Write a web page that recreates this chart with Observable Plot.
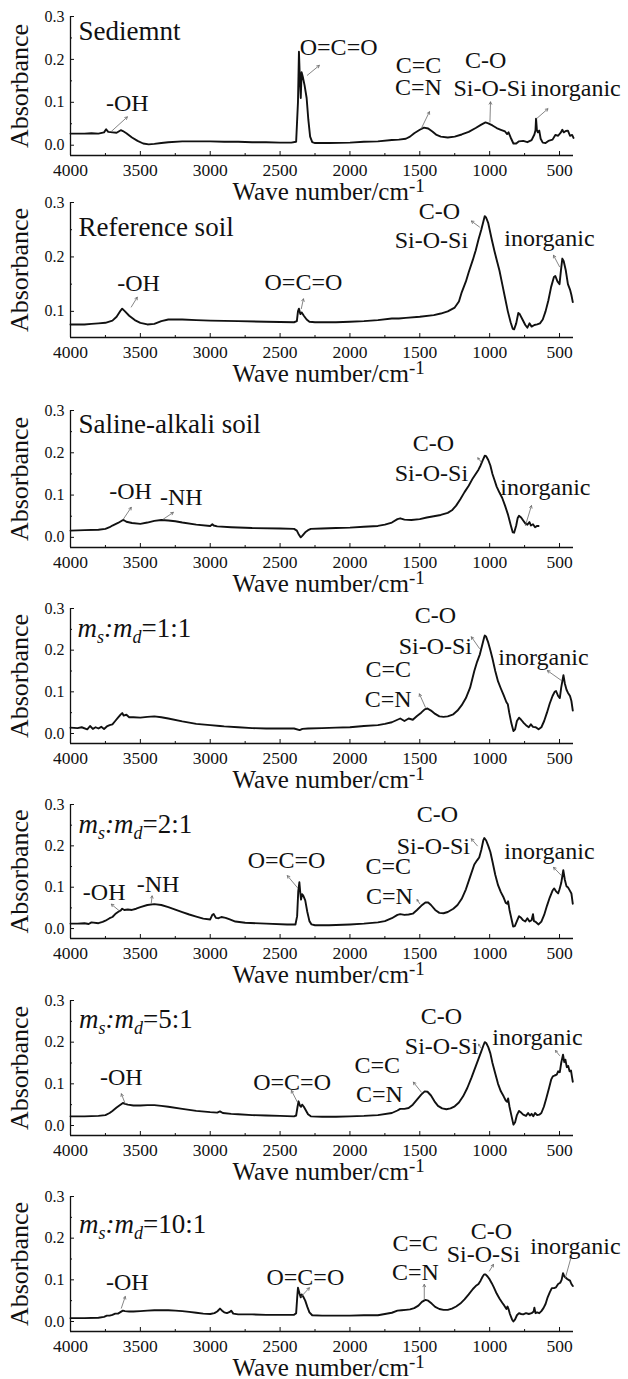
<!DOCTYPE html>
<html><head><meta charset="utf-8">
<script src="https://cdn.jsdelivr.net/npm/d3@7"></script>
<script src="https://cdn.jsdelivr.net/npm/@observablehq/plot@0.6"></script>
<style>
body{margin:0;background:#fff;font-family:"Liberation Serif",serif;}
#wrap{position:relative;width:628px;height:1379px;overflow:hidden;background:#fff;}
#wrap svg{position:absolute;left:0;}
</style></head><body><div id="wrap"></div>
<script>
// ---------- DATA (wavenumber cm^-1, absorbance) ----------
const sediment = [[4000,.027],[3900,.027],[3850,.028],[3800,.027],[3760,.030],[3745,.037],[3730,.031],[3700,.030],[3670,.029],[3640,.035],[3625,.033],[3600,.028],[3560,.018],[3520,.010],[3480,.004],[3440,.002],[3400,.003],[3350,.005],[3300,.007],[3200,.009],[3100,.009],[3000,.009],[2900,.008],[2800,.008],[2700,.007],[2600,.007],[2500,.006],[2420,.006],[2385,.008],[2372,.10],[2365,.218],[2358,.15],[2352,.11],[2346,.17],[2338,.16],[2325,.14],[2310,.11],[2298,.06],[2285,.02],[2270,.007],[2250,.005],[2150,.005],[2000,.006],[1900,.008],[1800,.009],[1700,.012],[1650,.013],[1600,.015],[1570,.020],[1540,.028],[1500,.036],[1470,.041],[1440,.039],[1410,.032],[1380,.024],[1350,.020],[1300,.018],[1250,.020],[1200,.025],[1150,.031],[1100,.040],[1060,.048],[1030,.053],[1010,.051],[980,.046],[950,.040],[920,.036],[890,.032],[875,.026],[865,.030],[850,.018],[830,.004],[810,.004],[790,.009],[760,.010],[730,.007],[700,.012],[680,.025],[672,.035],[668,.062],[662,.035],[655,.030],[645,.034],[635,.015],[620,.006],[600,.005],[580,.010],[550,.013],[530,.024],[510,.022],[490,.030],[480,.036],[470,.030],[455,.033],[440,.034],[425,.022],[410,.024],[400,.017]];
const referenceSoil = [[4000,.076],[3900,.076],[3850,.077],[3800,.078],[3750,.079],[3700,.083],[3670,.090],[3640,.102],[3630,.105],[3610,.100],[3580,.092],[3540,.084],[3500,.079],[3450,.076],[3400,.077],[3350,.082],[3300,.085],[3200,.085],[3100,.084],[3000,.083],[2800,.082],[2600,.081],[2400,.080],[2380,.082],[2372,.100],[2365,.105],[2355,.095],[2345,.098],[2330,.092],[2310,.085],[2290,.081],[2250,.080],[2100,.080],[2000,.081],[1900,.082],[1800,.084],[1700,.087],[1650,.087],[1600,.088],[1500,.090],[1400,.093],[1350,.096],[1300,.100],[1250,.107],[1220,.118],[1200,.135],[1170,.155],[1150,.172],[1120,.195],[1100,.212],[1080,.232],[1060,.250],[1045,.265],[1035,.275],[1025,.272],[1010,.262],[1000,.250],[985,.232],[965,.210],[950,.195],[930,.175],[910,.150],[890,.125],[870,.100],[850,.080],[835,.068],[825,.067],[810,.078],[795,.097],[785,.095],[765,.085],[745,.075],[730,.070],[715,.078],[700,.072],[680,.075],[660,.076],[640,.078],[620,.085],[600,.100],[580,.120],[560,.145],[540,.163],[530,.165],[515,.155],[500,.150],[490,.175],[480,.197],[470,.192],[455,.175],[440,.150],[425,.140],[415,.130],[405,.117]];
const salineAlkali = [[4000,.016],[3900,.017],[3800,.018],[3750,.020],[3720,.024],[3700,.028],[3660,.034],[3630,.040],[3620,.041],[3600,.037],[3560,.034],[3500,.032],[3450,.035],[3400,.039],[3350,.041],[3300,.040],[3250,.038],[3200,.035],[3100,.030],[3000,.027],[2985,.031],[2975,.028],[2950,.026],[2850,.024],[2700,.022],[2500,.021],[2400,.020],[2380,.016],[2365,.006],[2352,.000],[2340,.004],[2320,.012],[2300,.017],[2280,.020],[2200,.021],[2100,.022],[2000,.023],[1900,.025],[1800,.027],[1750,.030],[1700,.035],[1660,.043],[1640,.045],[1610,.042],[1560,.041],[1500,.043],[1450,.047],[1400,.050],[1350,.053],[1300,.058],[1270,.064],[1240,.075],[1210,.090],[1180,.107],[1150,.122],[1120,.140],[1100,.150],[1080,.160],[1065,.170],[1050,.182],[1035,.193],[1025,.192],[1010,.183],[995,.170],[980,.150],[965,.135],[950,.120],[930,.106],[910,.093],[890,.075],[870,.055],[850,.030],[835,.012],[825,.011],[810,.028],[800,.045],[790,.051],[775,.047],[760,.040],[745,.033],[730,.030],[715,.036],[705,.028],[690,.031],[675,.024],[660,.027],[650,.027]];
const ratio1to1 = [[4000,.014],[3950,.013],[3920,.015],[3880,.010],[3860,.018],[3840,.011],[3820,.015],[3800,.012],[3780,.016],[3760,.011],[3740,.017],[3720,.020],[3700,.022],[3680,.030],[3660,.038],[3640,.046],[3630,.049],[3620,.043],[3600,.045],[3580,.039],[3550,.039],[3500,.038],[3450,.040],[3400,.041],[3350,.039],[3300,.036],[3200,.029],[3100,.023],[3000,.020],[2930,.018],[2900,.017],[2800,.015],[2700,.013],[2600,.012],[2500,.012],[2400,.012],[2360,.008],[2340,.011],[2300,.012],[2200,.013],[2100,.014],[2000,.015],[1900,.018],[1800,.020],[1750,.023],[1700,.027],[1660,.033],[1640,.036],[1610,.030],[1580,.036],[1550,.033],[1520,.042],[1490,.050],[1465,.058],[1445,.060],[1420,.055],[1390,.047],[1360,.041],[1330,.040],[1300,.041],[1260,.046],[1230,.055],[1200,.068],[1170,.085],[1140,.110],[1110,.150],[1090,.172],[1070,.190],[1055,.210],[1040,.230],[1035,.235],[1025,.232],[1010,.218],[995,.200],[980,.180],[960,.150],[940,.125],[920,.108],[900,.092],[880,.075],[870,.070],[860,.050],[845,.025],[830,.006],[818,.010],[805,.030],[790,.038],[775,.033],[755,.025],[740,.020],[720,.015],[705,.022],[690,.016],[670,.015],[650,.010],[630,.015],[610,.030],[590,.050],[570,.072],[550,.090],[535,.100],[525,.102],[510,.090],[498,.085],[488,.110],[472,.140],[462,.120],[450,.105],[440,.098],[425,.090],[415,.078],[405,.055]];
const ratio2to1 = [[4000,.012],[3950,.012],[3900,.013],[3870,.011],[3850,.015],[3800,.013],[3770,.016],[3750,.019],[3720,.025],[3700,.028],[3680,.035],[3660,.040],[3640,.044],[3630,.048],[3615,.045],[3590,.046],[3560,.045],[3530,.048],[3500,.052],[3450,.057],[3400,.059],[3350,.057],[3300,.052],[3250,.046],[3200,.040],[3150,.034],[3100,.029],[3050,.024],[3000,.022],[2985,.033],[2975,.035],[2960,.026],[2940,.025],[2920,.028],[2890,.026],[2860,.022],[2820,.017],[2750,.014],[2600,.012],[2450,.010],[2390,.010],[2378,.030],[2370,.090],[2362,.112],[2355,.085],[2350,.070],[2343,.083],[2335,.080],[2320,.068],[2305,.040],[2290,.018],[2275,.010],[2250,.008],[2150,.008],[2000,.010],[1900,.012],[1800,.015],[1750,.018],[1700,.025],[1660,.033],[1640,.035],[1610,.033],[1580,.034],[1550,.036],[1520,.045],[1490,.055],[1460,.063],[1440,.063],[1420,.057],[1390,.045],[1360,.038],[1330,.037],[1300,.040],[1260,.048],[1230,.057],[1200,.072],[1170,.095],[1140,.125],[1110,.155],[1090,.165],[1075,.172],[1060,.190],[1045,.214],[1038,.219],[1025,.213],[1010,.200],[995,.185],[980,.162],[960,.130],[940,.105],[920,.088],[900,.075],[885,.062],[875,.060],[868,.066],[858,.045],[845,.025],[832,.005],[820,.006],[805,.018],[790,.030],[775,.026],[760,.020],[745,.017],[730,.025],[715,.017],[700,.020],[690,.035],[683,.018],[670,.016],[650,.010],[630,.017],[610,.033],[590,.055],[570,.075],[550,.092],[538,.097],[525,.090],[510,.085],[500,.095],[488,.110],[473,.141],[462,.118],[450,.102],[440,.100],[428,.093],[415,.085],[405,.060]];
const ratio5to1 = [[4000,.022],[3900,.022],[3800,.023],[3750,.025],[3720,.030],[3700,.035],[3670,.043],[3650,.048],[3625,.054],[3610,.052],[3590,.050],[3550,.048],[3500,.048],[3450,.049],[3400,.049],[3350,.047],[3300,.045],[3200,.040],[3100,.035],[3000,.032],[2950,.031],[2930,.034],[2910,.030],[2850,.028],[2800,.027],[2700,.025],[2600,.024],[2500,.023],[2400,.022],[2385,.024],[2375,.045],[2368,.058],[2358,.048],[2350,.045],[2342,.050],[2330,.045],[2315,.036],[2300,.027],[2280,.022],[2200,.021],[2100,.021],[2000,.022],[1900,.023],[1800,.025],[1700,.030],[1660,.036],[1640,.040],[1610,.040],[1580,.042],[1550,.050],[1520,.062],[1490,.074],[1465,.082],[1445,.081],[1420,.072],[1395,.058],[1370,.047],[1340,.041],[1310,.039],[1280,.041],[1250,.046],[1220,.055],[1190,.070],[1160,.090],[1130,.115],[1100,.142],[1080,.160],[1060,.178],[1045,.192],[1035,.200],[1025,.198],[1010,.188],[995,.173],[980,.150],[960,.125],[940,.100],[920,.082],[900,.070],[885,.060],[875,.057],[868,.065],[858,.045],[845,.025],[830,.002],[818,.008],[805,.025],[790,.035],[775,.031],[760,.026],[740,.023],[725,.030],[712,.024],[700,.028],[688,.022],[675,.030],[660,.025],[645,.026],[630,.030],[612,.045],[595,.065],[575,.090],[560,.110],[548,.118],[535,.120],[520,.122],[510,.130],[498,.128],[488,.150],[475,.170],[466,.152],[458,.158],[448,.140],[438,.143],[428,.130],[418,.132],[410,.115],[405,.105]];
const ratio10to1 = [[4000,.008],[3900,.008],[3800,.009],[3760,.011],[3740,.014],[3720,.014],[3700,.016],[3680,.019],[3660,.019],[3640,.023],[3625,.026],[3610,.025],[3580,.024],[3550,.024],[3500,.025],[3450,.026],[3400,.027],[3350,.027],[3300,.027],[3250,.026],[3200,.025],[3150,.023],[3100,.021],[3050,.019],[3000,.018],[2970,.020],[2950,.024],[2930,.031],[2915,.026],[2900,.022],[2880,.020],[2860,.023],[2850,.026],[2835,.019],[2800,.017],[2700,.017],[2600,.016],[2500,.016],[2400,.016],[2385,.020],[2377,.060],[2372,.081],[2360,.066],[2352,.058],[2345,.065],[2335,.060],[2320,.050],[2305,.035],[2290,.022],[2270,.015],[2200,.014],[2100,.014],[2000,.014],[1900,.015],[1800,.015],[1750,.018],[1700,.021],[1660,.026],[1630,.027],[1600,.028],[1570,.029],[1540,.032],[1510,.038],[1485,.047],[1460,.052],[1440,.050],[1415,.043],[1390,.035],[1360,.030],[1330,.028],[1300,.028],[1270,.031],[1240,.036],[1210,.043],[1180,.053],[1150,.065],[1120,.078],[1100,.085],[1080,.090],[1065,.098],[1050,.108],[1040,.113],[1030,.113],[1015,.108],[1000,.101],[985,.092],[970,.082],[950,.067],[930,.055],[910,.045],[895,.038],[880,.030],[872,.036],[865,.030],[855,.018],[840,.005],[830,.000],[818,.005],[805,.015],[790,.020],[775,.018],[760,.017],[740,.020],[720,.018],[700,.020],[685,.024],[680,.033],[672,.020],[660,.022],[645,.020],[630,.025],[615,.032],[600,.042],[585,.058],[570,.070],[555,.080],[540,.080],[525,.082],[510,.090],[495,.093],[485,.100],[475,.116],[465,.108],[455,.105],[445,.102],[435,.100],[425,.098],[415,.090],[405,.085]];

// sample names: [text, wavenumber, absorbance]
const sampleNames = [["Sediemnt",3943,.266],["Reference soil",3943,.255],["Saline-alkali soil",3943,.268],["ms:md=1:1",3950,.252],["ms:md=2:1",3943,.253],["ms:md=5:1",3940,.254],["ms:md=10:1",3940,.234]];

// band labels: [text, wavenumber, absorbance]
const bandLabels = [
 [["-OH",3593,.097],["O=C=O",2081,.229],["C=C",1510,.186],["C=N",1510,.136],["C-O",1029,.199],["Si-O-Si",997,.132],["inorganic",385,.132]],
 [["-OH",3513,.151],["O=C=O",2333,.153],["C-O",1360,.283],["Si-O-Si",1417,.231],["inorganic",572,.235]],
 [["-OH",3570,.110],["-NH",3207,.095],["C-O",1403,.223],["Si-O-Si",1417,.152],["inorganic",601,.118]],
 [["C-O",1389,.284],["Si-O-Si",1389,.209],["C=C",1726,.155],["C=N",1726,.083],["inorganic",615,.183]],
 [["-OH",3759,.087],["-NH",3373,.108],["O=C=O",2454,.164],["C=C",1726,.150],["C=N",1717,.079],["C-O",1374,.277],["Si-O-Si",1403,.200],["inorganic",572,.188]],
 [["-OH",3636,.116],["O=C=O",2414,.104],["C=C",1804,.144],["C=N",1789,.074],["C-O",1345,.262],["Si-O-Si",1345,.190],["inorganic",658,.212]],
 [["-OH",3593,.093],["O=C=O",2319,.105],["C=C",1532,.187],["C=N",1532,.119],["C-O",987,.216],["Si-O-Si",1045,.161],["inorganic",386,.181]]
];

// pointer arrows: [w1, a1, w2, a2] (from band to label)
const bandArrows = [
 [[3708,.032,3593,.066],[2305,.163,2219,.186],[1489,.039,1431,.078],[998,.054,994,.101],[664,.062,583,.085]],
 [[3565,.108,3522,.126],[2348,.105,2333,.123],[1073,.255,1131,.266],[500,.182,543,.203]],
 [[3622,.043,3565,.071],[3336,.043,3264,.059],[1060,.178,1085,.188],[744,.028,701,.075]],
 [[1073,.204,1131,.232],[1460,.063,1503,.095],[486,.127,587,.151]],
 [[3651,.043,3708,.059],[3422,.061,3416,.079],[2376,.099,2448,.128],[1500,.060,1520,.070],[1088,.200,1131,.217],[486,.128,543,.148]],
 [[3608,.052,3636,.076],[2376,.056,2419,.084],[1489,.080,1546,.104],[1060,.185,1080,.195],[500,.168,529,.180]],
 [[3636,.032,3608,.060],[2348,.060,2290,.081],[1468,.052,1468,.089],[1002,.121,973,.137],[458,.105,415,.157]]
];

const spectra = [sediment, referenceSoil, salineAlkali, ratio1to1, ratio2to1, ratio5to1, ratio10to1];
const yMins = [-0.024, 0.052, -0.024, -0.024, -0.024, -0.024, -0.024];
const yTicks = [[0,.1,.2,.3],[.1,.2,.3],[0,.1,.2,.3],[0,.1,.2,.3],[0,.1,.2,.3],[0,.1,.2,.3],[0,.1,.2,.3]];
const yMinorTicks = [[.05,.15,.25],[.15,.25],[.05,.15,.25],[.05,.15,.25],[.05,.15,.25],[.05,.15,.25],[.05,.15,.25]];
const xTicks = [4000,3500,3000,2500,2000,1500,1000,500];
const xMinorTicks = [3750,3250,2750,2250,1750,1250,750];
const xTitle = "Wave number/cm-1";
const yTitle = "Absorbance";

// ---------- LAYOUT (pixel rows of the 0.3 tick and the x axis) ----------
const panelTop = [16, 202, 410, 608, 804, 1000, 1196];
const panelBottom = [155, 337, 547, 743, 938, 1135, 1331];

const font = "Liberation Serif";
const ns = "http://www.w3.org/2000/svg";
const wrap = document.getElementById("wrap");

function tspan(txt, attrs) {
  const t = document.createElementNS(ns, "tspan");
  for (const k in attrs) t.setAttribute(k, attrs[k]);
  t.textContent = txt;
  return t;
}

function fixText(svg) {
  svg.setAttribute("font-family", font);
  svg.querySelectorAll("text").forEach(t => {
    t.setAttribute("font-family", font);
    const s = t.textContent;
    if (s === xTitle) {
      t.textContent = "";
      t.appendChild(tspan("Wave number/cm", {}));
      t.appendChild(tspan("-1", {dy: "-8", "font-size": "19"}));
    }
    const m = s.match(/^ms:md=(.+)$/);
    if (m) {
      t.textContent = "";
      t.appendChild(tspan("m", {"font-style": "italic"}));
      t.appendChild(tspan("s", {"font-style": "italic", "font-size": "18", dy: "6"}));
      t.appendChild(tspan(":", {"font-style": "italic", dy: "-6"}));
      t.appendChild(tspan("m", {"font-style": "italic"}));
      t.appendChild(tspan("d", {"font-style": "italic", "font-size": "18", dy: "6"}));
      t.appendChild(tspan("=" + m[1], {dy: "-6"}));
    }
  });
}

spectra.forEach((data, i) => {
  const mt = 20, mb = 50;
  const h = panelBottom[i] - panelTop[i];
  const yMin = yMins[i];
  const plot = Plot.plot({
    width: 628, height: mt + h + mb,
    marginTop: mt, marginBottom: mb, marginLeft: 70, marginRight: 55,
    style: {background: "transparent", overflow: "visible", color: "#111"},
    x: {domain: [4000, 400], label: null},
    y: {domain: [yMin, 0.3], label: null},
    marks: [
      Plot.axisX({ticks: xTicks, tickSize: 0, tickPadding: 8, fontSize: 17.5, fontFamily: font, tickFormat: d => String(d), label: null}),
      Plot.axisX({ticks: xTicks, tickSize: -4, tickFormat: () => "", label: null}),
      Plot.axisX({ticks: xMinorTicks, tickSize: -2, tickFormat: () => "", label: null}),
      Plot.axisY({ticks: yTicks[i], tickSize: 0, tickPadding: 6, fontSize: 16, fontFamily: font, tickFormat: d3.format(".1f"), label: null}),
      Plot.axisY({ticks: yTicks[i], tickSize: -4, tickFormat: () => "", label: null}),
      Plot.axisY({ticks: yMinorTicks[i], tickSize: -2, tickFormat: () => "", label: null}),
      Plot.ruleX([4000], {stroke: "#111", strokeWidth: 1.3}),
      Plot.ruleY([yMin], {stroke: "#111", strokeWidth: 1.3}),
      Plot.line(data, {x: d => d[0], y: d => d[1], stroke: "#111", strokeWidth: 1.9, curve: "linear"}),
      Plot.arrow(bandArrows[i], {x1: d => d[0], y1: d => d[1], x2: d => d[2], y2: d => d[3], stroke: "#666", strokeWidth: 0.8, headLength: 5}),
      Plot.text(bandLabels[i], {x: d => d[1], y: d => d[2], text: d => d[0], fontSize: 24, fontFamily: font, fill: "#111", textAnchor: "middle", lineAnchor: "middle"}),
      Plot.text([sampleNames[i]], {x: d => d[1], y: d => d[2], text: d => d[0], fontSize: 27, fontFamily: font, fill: "#111", textAnchor: "start", lineAnchor: "middle"}),
      Plot.text([xTitle], {text: d => d, frameAnchor: "bottom-left", textAnchor: "start", lineAnchor: "middle", dy: 36, dx: 162, fontSize: 25, fontFamily: font, fill: "#111"}),
      Plot.text([yTitle], {text: d => d, frameAnchor: "left", rotate: -90, textAnchor: "middle", lineAnchor: "middle", dx: -51, fontSize: 26, fontFamily: font, fill: "#111"})
    ]
  });
  plot.style.top = (panelTop[i] - mt) + "px";
  fixText(plot);
  wrap.appendChild(plot);
});
</script></body></html>
